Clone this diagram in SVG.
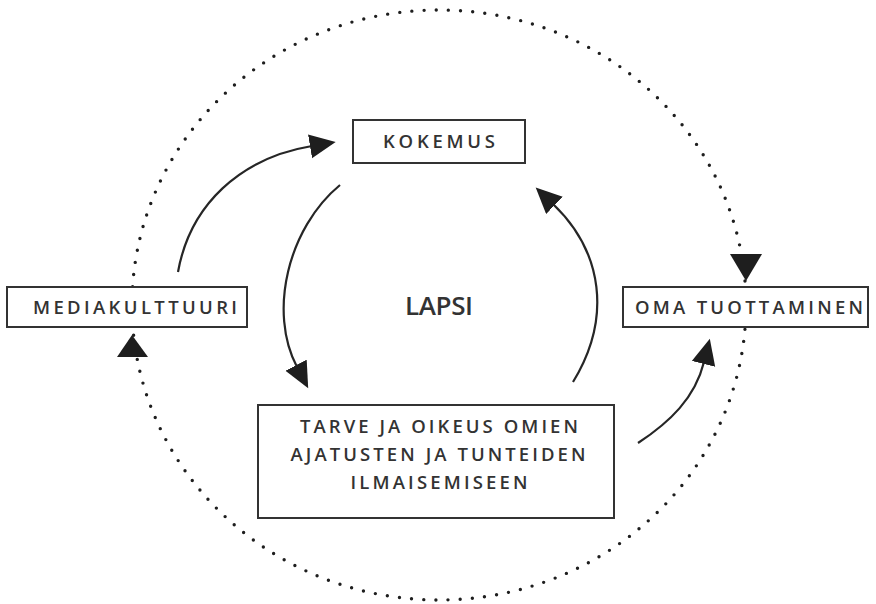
<svg xmlns="http://www.w3.org/2000/svg" width="876" height="604" viewBox="0 0 876 604">
  <style>
    .box { fill: #ffffff; stroke: #333333; stroke-width: 2; }
    .lbl { font-family: "Open Sans", "Noto Sans", sans-serif; font-size: 18.5px; font-weight: 600; fill: #333333; text-anchor: middle; }
    .big { font-size: 26px; }
    .flow { fill: none; stroke: #262626; stroke-width: 2.2; marker-end: url(#head); }
    .ring { fill: none; stroke: #1e1e1e; stroke-width: 3.4; stroke-linecap: round; stroke-dasharray: 0 12.2; }
    .tri { fill: #1e1e1e; }
  </style>
  <defs>
    <marker id="head" markerUnits="userSpaceOnUse" markerWidth="28" markerHeight="26" refX="2" refY="12" orient="auto" viewBox="0 0 28 26">
      <path d="M0,0 L26,12 L0,24 Z" fill="#1e1e1e"/>
    </marker>
  </defs>

  <rect width="876" height="604" fill="#ffffff"/>

  <!-- outer dotted cycle -->
  <g id="outer-cycle">
    <ellipse class="ring" cx="439" cy="305" rx="307" ry="295"/>
    <path class="tri" d="M730,254 L762,254 L746,281 Z"/>
    <path class="tri" d="M117,357 L148,357 L132,335 Z"/>
  </g>

  <!-- connectors -->
  <g id="connectors">
    <path class="flow" d="M178,272 C190,205 240,158 312,146"/>
    <path class="flow" d="M340,185 C288,228 268,312 297,367"/>
    <path class="flow" d="M573,382 C612,318 603,252 553,204"/>
    <path class="flow" d="M638,443 C670,422 695,398 704,362"/>
  </g>

  <g id="node-kokemus">
    <rect class="box" x="353" y="120" width="172" height="43"/>
    <text class="lbl" x="439" y="148" textLength="112" lengthAdjust="spacing">KOKEMUS</text>
  </g>

  <g id="node-mediakulttuuri">
    <rect class="box" x="7" y="287" width="240" height="40"/>
    <text class="lbl" x="135" y="313.5" textLength="204" lengthAdjust="spacing">MEDIAKULTTUURI</text>
  </g>

  <g id="node-oma-tuottaminen">
    <rect class="box" x="623" y="287" width="245" height="40"/>
    <text class="lbl" x="749" y="313.5" textLength="228" lengthAdjust="spacing">OMA TUOTTAMINEN</text>
  </g>

  <g id="node-tarve">
    <rect class="box" x="258" y="405" width="356" height="113"/>
    <text class="lbl" x="439" y="433" textLength="278" lengthAdjust="spacing">TARVE JA OIKEUS OMIEN</text>
    <text class="lbl" x="438" y="461" textLength="295" lengthAdjust="spacing">AJATUSTEN JA TUNTEIDEN</text>
    <text class="lbl" x="439" y="489" textLength="177" lengthAdjust="spacing">ILMAISEMISEEN</text>
  </g>

  <g id="node-lapsi">
    <text class="lbl big" x="439" y="315" textLength="68" lengthAdjust="spacing">LAPSI</text>
  </g>
</svg>
